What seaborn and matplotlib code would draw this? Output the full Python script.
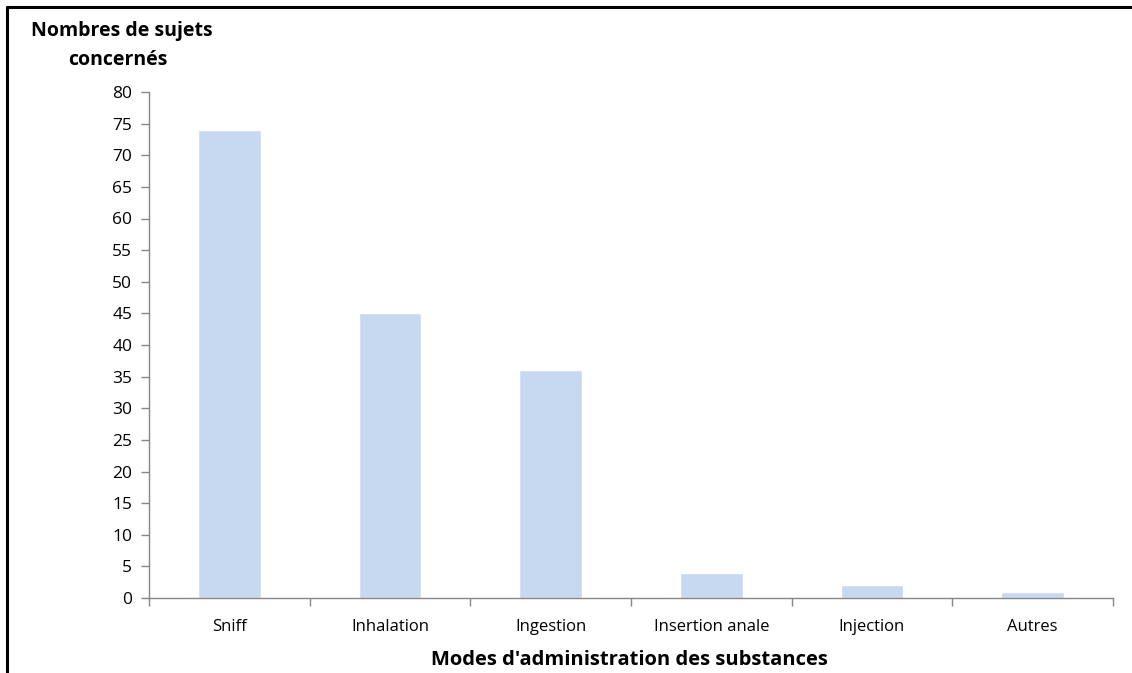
import numpy as np
import pandas as pd
import matplotlib
matplotlib.use('Agg')
import matplotlib.pyplot as plt
import seaborn as sns
from matplotlib.lines import Line2D

# ── Data ──────────────────────────────────────────────────────────────────────
modes = ['Sniff', 'Inhalation', 'Ingestion', 'Insertion anale', 'Injection', 'Autres']
sujets = [74, 45, 36, 4, 2, 1]
yticks = list(range(0, 85, 5))

BAR_COLOR = '#C6D9F1'
AXIS_COLOR = '#868686'

sns.set_theme(style='white')
plt.rcParams['font.family'] = ['Open Sans', 'DejaVu Sans']
plt.rcParams['text.color'] = 'black'

W, H = 1132, 673
fig = plt.figure(figsize=(W / 100, H / 100), dpi=100)
ax = fig.add_axes([149 / W, (H - 598) / H, (1113 - 149) / W, (598 - 92) / H])

df = pd.DataFrame({'mode': modes, 'n': sujets})
sns.barplot(data=df, x='mode', y='n', color=BAR_COLOR, width=0.39,
            saturation=1, ax=ax)

ax.set_xlim(-0.5, len(modes) - 0.5)
ax.set_ylim(0, 80)
ax.set_yticks(yticks)
ax.tick_params(axis='y', left=True, length=6, width=1, color=AXIS_COLOR,
               labelsize=12.5, pad=6, labelcolor='black')
ax.tick_params(axis='x', bottom=False, labelsize=12, pad=9, labelcolor='black')
ax.set_xticks(np.arange(-0.5, len(modes)), minor=True)
ax.tick_params(axis='x', which='minor', bottom=True, length=6, width=1,
               color=AXIS_COLOR)
ax.set_xlabel('')
ax.set_ylabel('')

for side in ['top', 'right']:
    ax.spines[side].set_visible(False)
for side in ['left', 'bottom']:
    ax.spines[side].set_color(AXIS_COLOR)
    ax.spines[side].set_linewidth(1)

# titles
fig.text(122 / W, 1 - 31 / H, 'Nombres de sujets', ha='center', va='center',
         fontsize=14, fontweight='bold', color='black')
fig.text(118 / W, 1 - 60 / H, 'concernés', ha='center', va='center',
         fontsize=14, fontweight='bold', color='black')
fig.text(629 / W, 1 - 660 / H, "Modes d'administration des substances",
         ha='center', va='center', fontsize=14.5, fontweight='bold', color='black')

# outer frame (top and left edges visible)
fig.add_artist(Line2D([7 / W, 1], [1 - 7 / H, 1 - 7 / H], color='black',
                      linewidth=2.2, transform=fig.transFigure))
fig.add_artist(Line2D([7 / W, 7 / W], [0, 1 - 7 / H], color='black',
                      linewidth=2.2, transform=fig.transFigure))

fig.savefig('out.png', dpi=100, facecolor='white')
